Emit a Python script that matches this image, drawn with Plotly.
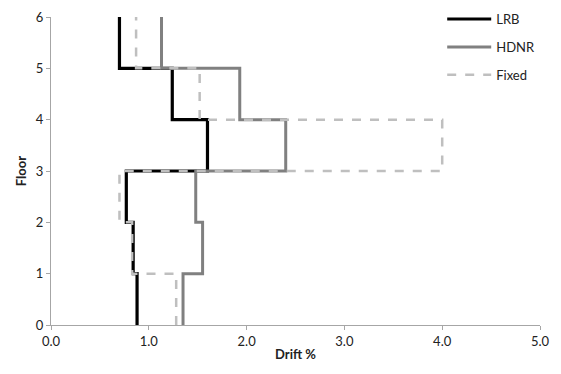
import plotly.graph_objects as go

floors = [0, 1, 2, 3, 4, 5, 6]
lrb = [0.88, 0.84, 0.77, 1.60, 1.24, 0.70]
hdnr = [1.35, 1.55, 1.48, 2.40, 1.93, 1.13]
fixed = [1.28, 0.83, 0.70, 4.00, 1.52, 0.87]
x_ticks = [0, 1, 2, 3, 4, 5]
x_tick_labels = ["0.0", "1.0", "2.0", "3.0", "4.0", "5.0"]

FONT = "Lato, Open Sans, sans-serif"

def steps(vals):
    return vals + [vals[-1]]

fig = go.Figure()
fig.add_trace(go.Scatter(x=steps(lrb), y=floors, mode="lines", name="LRB", legendgroup="a",
                         line=dict(color="black", width=3.2, shape="vh")))
fig.add_trace(go.Scatter(x=steps(hdnr), y=floors, mode="lines", name="HDNR", legendgroup="b",
                         line=dict(color="#808080", width=3, shape="vh")))
fig.add_trace(go.Scatter(x=steps(fixed), y=floors, mode="lines", name="Fixed", legendgroup="c",
                         line=dict(color="#BFBFBF", width=2.5, shape="vh", dash="dash")))

fig.update_layout(
    width=561, height=374,
    margin=dict(l=43, r=29, t=9, b=57, autoexpand=False),
    paper_bgcolor="white", plot_bgcolor="white",
    font=dict(family=FONT, size=13, color="#222"),
    showlegend=True,
    legend=dict(x=0.80, y=1.042, xanchor="left", yanchor="top",
                bgcolor="rgba(0,0,0,0)", font=dict(size=13, color="#222"),
                tracegroupgap=8, itemwidth=44),
    xaxis=dict(range=[0, 5], tickvals=x_ticks, ticktext=x_tick_labels, automargin=False,
               ticklabeloverflow="allow",
               showgrid=False, zeroline=False, showline=True, linecolor="#A6A6A6",
               linewidth=1, ticks="outside", ticklen=4, tickcolor="#A6A6A6",
               title=dict(text="<b>Drift %</b>", standoff=2, font=dict(size=13))),
    yaxis=dict(range=[0, 6], tickvals=floors, showgrid=False, zeroline=False, automargin=False,
               ticklabeloverflow="allow",
               showline=True, linecolor="#A6A6A6", linewidth=1, ticks="outside",
               ticklen=4, tickcolor="#A6A6A6",
               title=dict(text="<b>Floor</b>", standoff=6, font=dict(size=13))),
)

fig.write_html("out.html")
